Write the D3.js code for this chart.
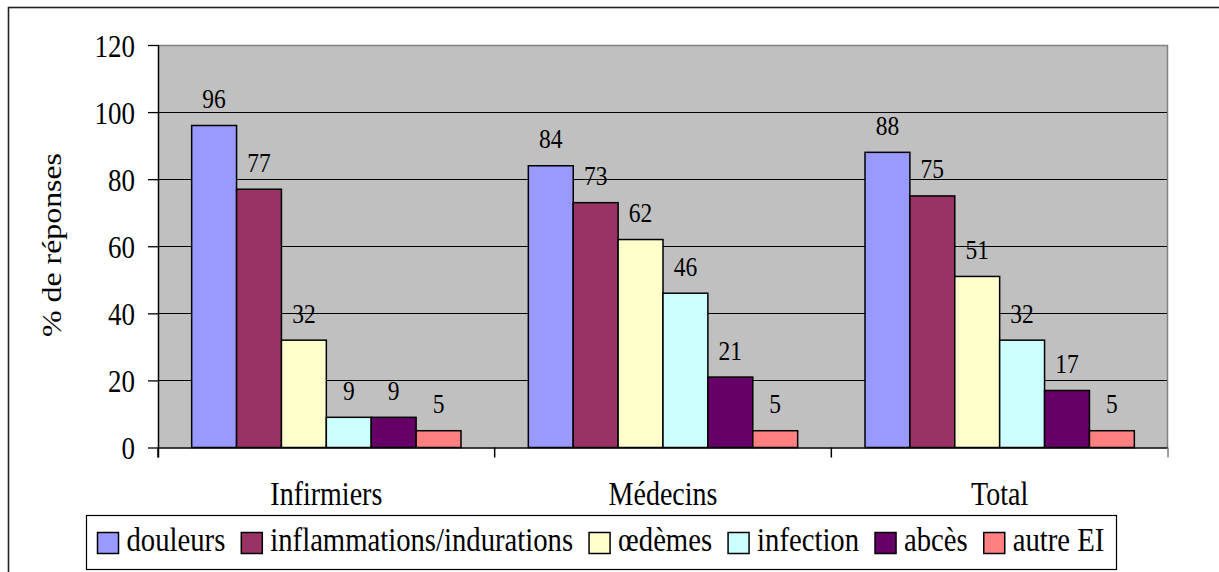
<!DOCTYPE html>
<html>
<head>
<meta charset="utf-8">
<script src="https://cdn.jsdelivr.net/npm/d3@7"></script>
<style>
  html, body { margin: 0; padding: 0; background: #fff; }
  svg { display: block; }
</style>
</head>
<body>
<svg id="chart" width="1219" height="572"></svg>
<script>
// Groups of respondents along the x axis
const categories = ["Infirmiers", "Médecins", "Total"];
// Reported adverse effects (one bar per effect in each group)
const series = ["douleurs", "inflammations/indurations", "œdèmes", "infection", "abcès", "autre EI"];
const seriesColors = ["#9999FF", "#993366", "#FFFFCC", "#CCFFFF", "#660066", "#FF8080"];
// Percentages of answers, one array per group, in series order
const infirmiers = [96, 77, 32, 9, 9, 5];
const medecins = [84, 73, 62, 46, 21, 5];
const total = [88, 75, 51, 32, 17, 5];
const groupValues = [infirmiers, medecins, total];
// Y axis
const yTicks = [0, 20, 40, 60, 80, 100, 120];
const yTitle = "% de réponses";

const FONT = "'Liberation Serif', 'Times New Roman', Times, serif";
const svg = d3.select("#chart");
const SY = 1.18; // vertical stretch of the text glyphs

const plot = { left: 158, right: 1168, top: 45, bottom: 447.5 };

const x0 = d3.scaleBand().domain(categories).range([plot.left, plot.right]).padding(0);
const bw = x0.bandwidth();
const x1 = d3.scaleBand().domain(series).range([bw * 0.1, bw * 0.9]).padding(0);
const y = d3.scaleLinear().domain([0, 120]).range([plot.bottom, plot.top]);
const color = d3.scaleOrdinal().domain(series).range(seriesColors);

// outer frame
svg.append("rect")
  .attr("x", 8.5).attr("y", 7.5).attr("width", 1220).attr("height", 570)
  .attr("fill", "none").attr("stroke", "#222").attr("stroke-width", 1.6);

// plot background
svg.append("rect")
  .attr("x", plot.left).attr("y", plot.top)
  .attr("width", plot.right - plot.left).attr("height", plot.bottom - plot.top)
  .attr("fill", "#C0C0C0");
svg.append("path")
  .attr("d", `M${plot.left},${plot.top + 0.5}H${plot.right - 0.5}V${plot.bottom}`)
  .attr("fill", "none").attr("stroke", "#808080").attr("stroke-width", 1.5);

// horizontal gridlines
svg.append("g").selectAll("line")
  .data(yTicks.filter(t => t > 0 && t < 120))
  .join("line")
  .attr("x1", plot.left).attr("x2", plot.right - 1)
  .attr("y1", d => Math.round(y(d)) + 0.5).attr("y2", d => Math.round(y(d)) + 0.5)
  .attr("stroke", "#000").attr("stroke-width", 1.2);

// bars
const groups = svg.append("g").selectAll("g")
  .data(categories.map((c, i) => ({ cat: c, values: groupValues[i] })))
  .join("g")
  .attr("transform", d => `translate(${x0(d.cat)},0)`);

groups.selectAll("rect")
  .data(d => d.values.map((v, j) => ({ key: series[j], value: v })))
  .join("rect")
  .attr("x", d => x1(d.key))
  .attr("y", d => y(d.value))
  .attr("width", x1.bandwidth())
  .attr("height", d => y(0) - y(d.value))
  .attr("fill", d => color(d.key))
  .attr("stroke", "#000").attr("stroke-width", 1.5);

// value labels
groups.selectAll("text")
  .data(d => d.values.map((v, j) => ({ key: series[j], value: v })))
  .join("text")
  .style("font-family", FONT)
  .attr("text-anchor", "middle")
  .attr("font-size", 23.5)
  .attr("transform", d => `translate(${x1(d.key) + x1.bandwidth() / 2},${y(d.value) - 17.5}) scale(1,${SY})`)
  .text(d => d.value);

// y axis
const yAxis = svg.append("g")
  .attr("transform", `translate(${plot.left},0)`)
  .call(d3.axisLeft(y).tickValues(yTicks).tickSize(10).tickSizeOuter(0));
yAxis.select(".domain").attr("stroke", "#000").attr("stroke-width", 1.5)
  .attr("d", `M0.5,${plot.top}V${plot.bottom + 10}`);
yAxis.selectAll(".tick line").attr("stroke", "#000").attr("stroke-width", 1.3)
  .attr("x1", 0.5);
yAxis.selectAll(".tick text")
  .attr("x", null).attr("dy", null)
  .style("font-family", FONT).style("font-size", "27px")
  .attr("fill", "#000")
  .attr("transform", `translate(-23,11) scale(1,${SY})`);

// x axis: baseline plus ticks at group boundaries
const xAxis = svg.append("g");
xAxis.append("line")
  .attr("x1", plot.left).attr("x2", plot.right)
  .attr("y1", plot.bottom + 0.5).attr("y2", plot.bottom + 0.5)
  .attr("stroke", "#000").attr("stroke-width", 1.5);
const bounds = categories.map(c => x0(c)).concat([x0(categories[categories.length - 1]) + bw]);
xAxis.selectAll("line.tk")
  .data(bounds)
  .join("line").attr("class", "tk")
  .attr("x1", d => d).attr("x2", d => d)
  .attr("y1", plot.bottom).attr("y2", plot.bottom + 10)
  .attr("stroke", d => d === plot.right ? "#808080" : "#000").attr("stroke-width", 1.5);
xAxis.selectAll("text")
  .data(categories)
  .join("text")
  .style("font-family", FONT)
  .attr("text-anchor", "middle")
  .attr("font-size", 28)
  .attr("transform", d => `translate(${x0(d) + bw / 2},505) scale(1,${SY})`)
  .text(d => d);

// y axis title
svg.append("text")
  .style("font-family", FONT)
  .attr("text-anchor", "middle")
  .attr("font-size", 27)
  .attr("transform", `translate(61,245) scale(1,${SY}) rotate(-90)`)
  .text(yTitle);

// legend
const legend = svg.append("g");
legend.append("rect")
  .attr("x", 86.5).attr("y", 515.5).attr("width", 1030).attr("height", 54)
  .attr("fill", "#fff").attr("stroke", "#000").attr("stroke-width", 1.2);
let lx = 97.5;
series.forEach((s, i) => {
  legend.append("rect")
    .attr("x", lx).attr("y", 532.5).attr("width", 21).attr("height", 21)
    .attr("fill", color(s)).attr("stroke", "#000").attr("stroke-width", 1.5);
  const t = legend.append("text")
    .style("font-family", FONT)
    .attr("font-size", 28.7)
    .attr("transform", `translate(${lx + 29},551) scale(1,${SY})`)
    .text(s);
  lx += 29 + t.node().getComputedTextLength() + 16;
});
</script>
</body>
</html>
